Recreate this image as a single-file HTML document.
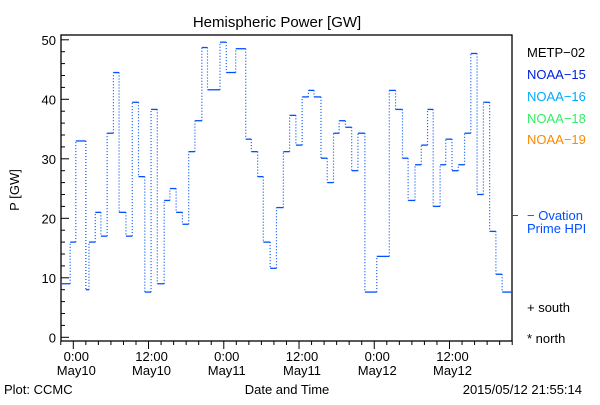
<!DOCTYPE html>
<html><head><meta charset="utf-8"><style>
body{margin:0;background:#fff;}
svg text{font-family:"Liberation Sans",sans-serif;font-size:13px;}
</style></head><body>
<svg width="600" height="400" xmlns="http://www.w3.org/2000/svg">
<rect width="600" height="400" fill="#fff"/>
<text x="277" y="27" text-anchor="middle" style="font-size:15px">Hemispheric Power [GW]</text>
<text transform="translate(19,190) rotate(-90)" text-anchor="middle">P [GW]</text>
<g id="axes"></g>
<g id="series"></g>
<text x="527" y="57" fill="#000">METP−02</text>
<text x="527" y="79" fill="#0022dd">NOAA−15</text>
<text x="527" y="101" fill="#00aaff">NOAA−16</text>
<text x="527" y="123" fill="#33ee66">NOAA−18</text>
<text x="527" y="144" fill="#ff8800">NOAA−19</text>
<line x1="512" y1="215.5" x2="518" y2="215.5" stroke="#0050ff"/>
<text x="527" y="220" fill="#0050ff">− Ovation</text>
<text x="527" y="233" fill="#0050ff">Prime HPI</text>
<text x="527" y="312">+ south</text>
<text x="527" y="343">* north</text>
<text x="4" y="394">Plot: CCMC</text>
<text x="287" y="394" text-anchor="middle">Date and Time</text>
<text x="582" y="394" text-anchor="end">2015/05/12 21:55:14</text>
</svg>
<script>
const yTicks=[0,10,20,30,40,50];
const xTickHours=[0,12,24,36,48,60];
const xTickTime=["0:00","12:00","0:00","12:00","0:00","12:00"];
const xTickDate=["May10","May10","May11","May11","May12","May12"];
const segStart=[-2,-0.5,0.4,2,2.5,3.5,4.4,5.4,6.4,7.3,8.4,9.4,10.4,11.4,12.4,13.4,14.5,15.4,16.4,17.4,18.4,19.4,20.5,21.4,23.4,24.4,25.9,27.5,28.4,29.4,30.3,31.4,32.4,33.5,34.5,35.5,36.5,37.5,38.4,39.5,40.5,41.5,42.4,43.4,44.4,45.4,46.5,48.4,50.4,51.4,52.5,53.4,54.5,55.5,56.5,57.4,58.5,59.4,60.4,61.4,62.4,63.4,64.4,65.4,66.4,67.4,68.4];
const segEnd=70;
const power=[9,16,33,8,16,21,17,34.3,44.5,21,17,39.5,27,7.6,38.3,9,23,25,21,19,31.2,36.4,48.7,41.6,49.6,44.5,48.5,33.3,31.2,27,16,11.6,21.8,31.2,37.3,32.3,40.4,41.5,40.4,30.1,26,34.3,36.4,35.3,28,34.3,7.6,13.6,41.5,38.3,30.1,23,29,32.3,38.3,22,29,33.3,28,29,34.3,47.7,24,39.5,17.8,10.6,7.6];
const L=61,R=512,T=35,B=341;
const X=h=>73.3+(h)*6.27;
const Y=v=>337.3-v*5.95;
const NS="http://www.w3.org/2000/svg";
function mk(t,a,p){const e=document.createElementNS(NS,t);for(const k in a)e.setAttribute(k,a[k]);p.appendChild(e);return e;}
const ax=document.getElementById('axes');
const box=mk('rect',{x:L,y:T,width:R-L,height:B-T,fill:'none',stroke:'#000','stroke-width':1.3},ax);


for(let v=0;v<=50;v+=2){const t=mk('line',{x1:L,x2:L+(v%10===0?8:4),y1:Y(v),y2:Y(v),stroke:'#000'},ax);

}
yTicks.forEach(v=>{const t=mk('text',{x:L-5,y:Y(v)+5,'text-anchor':'end'},ax);t.textContent=v;

});
for(let h=-2;h<=70;h+=2){const t=mk('line',{x1:X(h),x2:X(h),y1:B,y2:B+(h%12===0?8:4),stroke:'#000'},ax);

}
xTickHours.forEach((h,i)=>{const a=mk('text',{x:X(h)+3,y:B+20,'text-anchor':'middle'},ax);a.textContent=xTickTime[i];


const b=mk('text',{x:X(h)+3,y:B+34,'text-anchor':'middle'},ax);b.textContent=xTickDate[i];

});
const sg=document.getElementById('series');
power.forEach((v,i)=>{const x1=X(segStart[i]),x2=X(i+1<segStart.length?segStart[i+1]:segEnd);
const h=mk('line',{x1:Math.max(L,x1),x2:Math.min(R,x2),y1:Y(v),y2:Y(v),stroke:'#0050ff','stroke-width':1.3},sg);


if(i+1<power.length){const d=mk('line',{x1:x2,x2:x2,y1:Y(v),y2:Y(power[i+1]),stroke:'#0050ff','stroke-width':1.2,'stroke-dasharray':'1 2'},sg);

}});
</script>
</body></html>
